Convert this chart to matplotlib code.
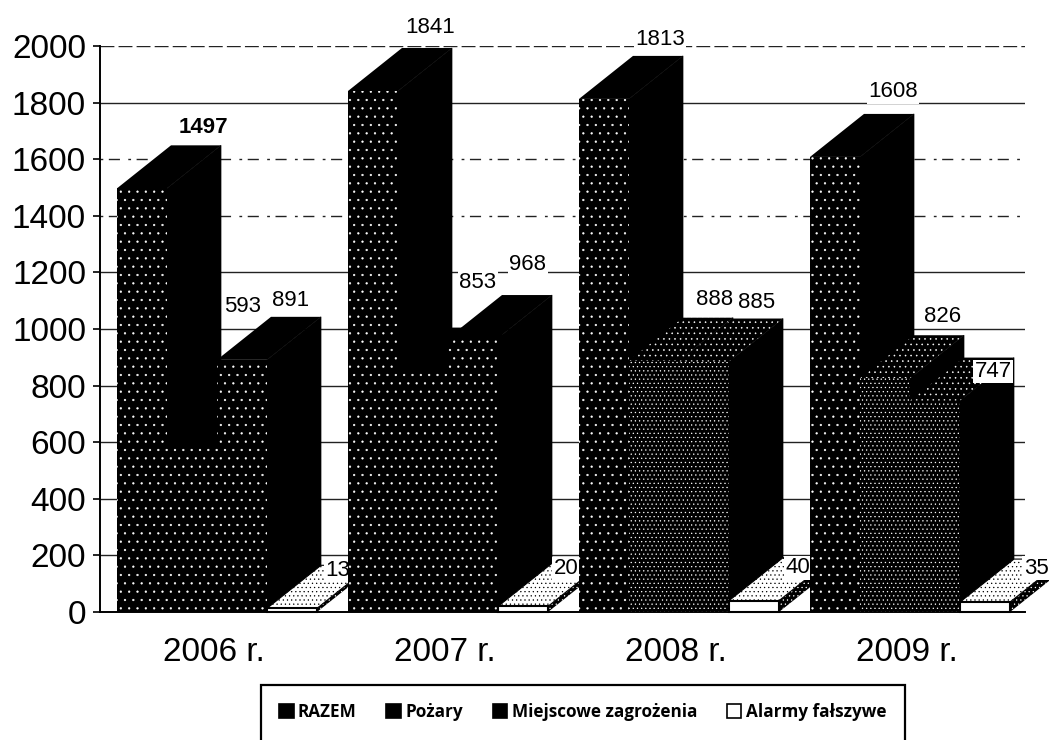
#!python3

import matplotlib
matplotlib.use("Agg")
import matplotlib.pyplot as plt
from matplotlib.patches import Polygon, Patch, Rectangle

plt.rcParams['font.family'] = ['Liberation Sans', 'DejaVu Sans']
plt.rcParams['hatch.linewidth'] = 0.4

years = ["2006 r.", "2007 r.", "2008 r.", "2009 r."]
series_names = ["RAZEM", "Pożary", "Miejscowe zagrożenia", "Alarmy fałszywe"]
razem = [1497, 1841, 1813, 1608]
pozary = [593, 853, 888, 826]
miejscowe = [891, 968, 885, 747]
alarmy = [13, 20, 40, 35]

# Label offsets from each bar's front top left corner, in pixels.
label_dx = [[86, 82, 81, 83], [76, 80, 86, 83], [74, 80, 78, 83], [71, 68, 69, 76]]
label_dy = [[61, 63, 59, 65], [138, 88, 61, 62], [59, 74, 59, 29], [38, 38, 33, 34]]

fig = plt.figure(figsize=(10.49, 7.40), dpi=100)
ax = fig.add_axes([100 / 1049, 128 / 740, 925 / 1049, 566 / 740])

px = 231.0  # pixels per category
bar_w = 50 / px
depth_x = 54 / px
depth_y = 152
start = -96.5 / px

ax.set_xlim((100 - 213.5) / px, (1025 - 213.5) / px)
ax.set_ylim(0, 2000)


def draw_bar(x, v, z, front_hatch, top_hatch, light=False):
    w = bar_w
    front = [(x, 0), (x + w, 0), (x + w, v), (x, v)]
    top = [(x, v), (x + w, v), (x + w + depth_x, v + depth_y), (x + depth_x, v + depth_y)]
    side = [(x + w, 0), (x + w + depth_x, depth_y), (x + w + depth_x, v + depth_y), (x + w, v)]
    if light:
        ax.add_patch(Polygon(side, facecolor='black', edgecolor='white', hatch='....', lw=0, zorder=z, clip_on=False))
        ax.add_patch(Polygon(top, facecolor='white', edgecolor='black', hatch='....', lw=0.8, zorder=z, clip_on=False))
        ax.add_patch(Polygon(front, facecolor='white', edgecolor='black', lw=1.5, zorder=z, clip_on=False))
    else:
        ax.add_patch(Polygon(side, facecolor='black', edgecolor='black', lw=0.5, zorder=z, clip_on=False))
        ax.add_patch(Polygon(top, facecolor='black', edgecolor='white', hatch=top_hatch, lw=0, zorder=z, clip_on=False))
        ax.add_patch(Polygon(front, facecolor='black', edgecolor='white', hatch=front_hatch, lw=0, zorder=z, clip_on=False))


all_series = [razem, pozary, miejscowe, alarmy]
for i in range(len(years)):
    z = 3 + 2 * i
    for j, values in enumerate(all_series):
        x = i + start + j * bar_w
        # the scan is more speckled on the two later years
        dense = i >= 2 and j > 0
        draw_bar(x, values[i], z, '....' if dense else '..', '...' if dense else None, light=(j == 3))
        ax.annotate(str(values[i]), xy=(x, values[i]),
                    xytext=(label_dx[j][i], label_dy[j][i]), textcoords='offset pixels',
                    ha='center', va='center', fontsize=16,
                    fontweight='bold' if j == 0 and i == 0 else 'normal',
                    bbox=dict(facecolor='white', edgecolor='none', pad=1),
                    zorder=z + 1, annotation_clip=False)

ax.set_xticks(range(len(years)))
ax.set_xticklabels(years)
ax.set_yticks(range(0, 2001, 200))
ax.tick_params(axis='x', length=0, pad=18, labelsize=24)
ax.tick_params(axis='y', length=5, width=1.2, pad=5, labelsize=24)

ax.yaxis.grid(True, color='#222222', lw=1.0, zorder=1)
ax.set_axisbelow(True)
gridlines = ax.yaxis.get_gridlines()
gridlines[8].set_linestyle((0, (2, 4, 8, 6)))  # 1600 and 1400 are broken up in the scan
gridlines[7].set_linestyle((0, (2, 4, 8, 6)))
gridlines[10].set_linestyle((0, (10, 3)))

for side_name in ['top', 'right']:
    ax.spines[side_name].set_visible(False)
ax.spines['left'].set_linewidth(1.4)
ax.spines['bottom'].set_linewidth(1.4)

# Legend box runs off the bottom of the page, so it is drawn apart from the legend.
fig.add_artist(Rectangle((261 / 1049, -10 / 740), 644 / 1049, 65 / 740,
                         transform=fig.transFigure, facecolor='white', edgecolor='black', lw=1.6))

colors = ['black', 'black', 'black', 'white']
handles = [Patch(facecolor=c, edgecolor='black', lw=1.2) for c in colors]
leg = fig.legend(handles, series_names, ncol=4, loc='center left',
                 bbox_to_anchor=(279 / 1049, 1 - 712 / 740),
                 prop={'family': 'Open Sans', 'size': 12.3, 'weight': 'bold'},
                 frameon=False, borderpad=0, handlelength=0.85, handleheight=0.85, handletextpad=0.25,
                 columnspacing=1.75, borderaxespad=0)

plt.savefig("out.png", dpi=100)
